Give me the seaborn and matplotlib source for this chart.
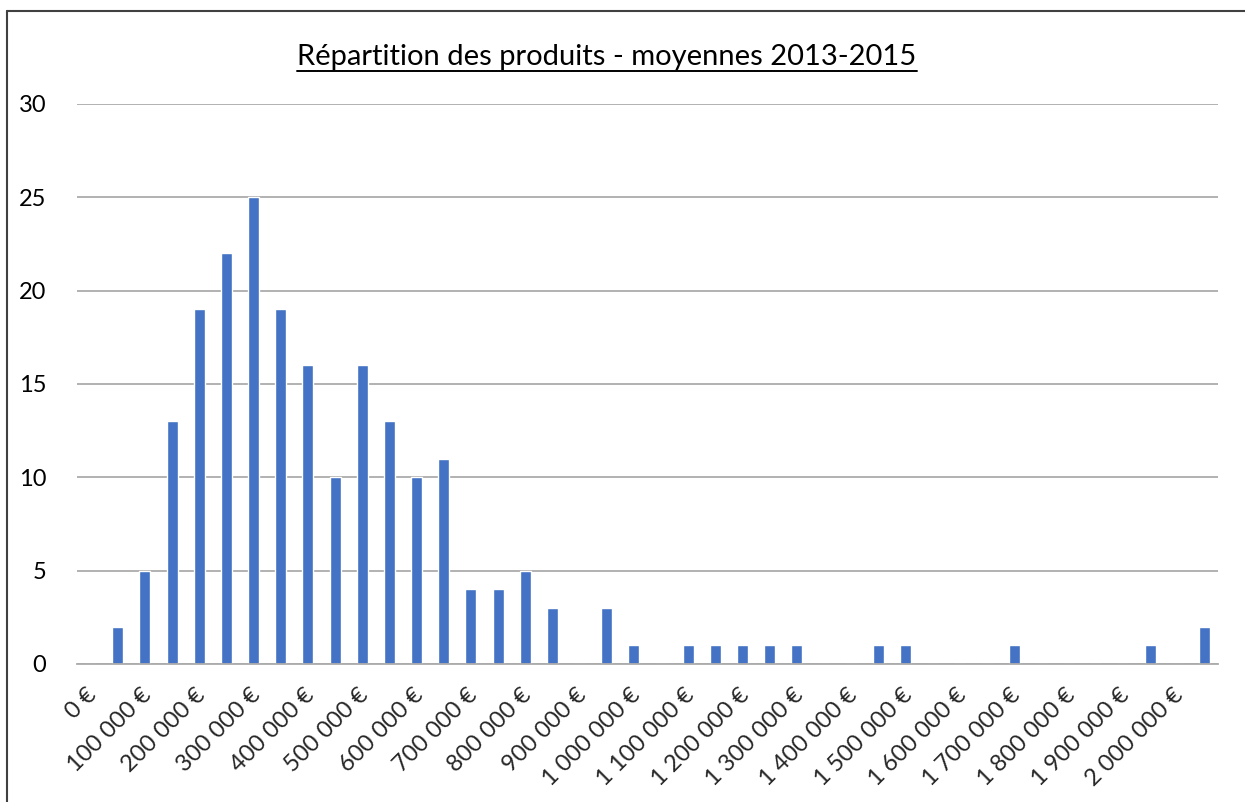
import matplotlib
matplotlib.use('Agg')
import matplotlib.pyplot as plt
from matplotlib.lines import Line2D
from matplotlib.transforms import ScaledTranslation
import seaborn as sns
import numpy as np

# classes de 50 000 € (0 € à 2 050 000 €)
classes = [f"{k * 50000:,} €".replace(",", " ") for k in range(42)]
effectifs = [0, 2, 5, 13, 19, 22, 25, 19, 16, 10,
             16, 13, 10, 11, 4, 4, 5, 3, 0, 3,
             1, 0, 1, 1, 1, 1, 1, 0, 0, 1,
             1, 0, 0, 0, 1, 0, 0, 0, 0, 1,
             0, 2]
titre = "Répartition des produits - moyennes 2013-2015"
yticks = [0, 5, 10, 15, 20, 25, 30]

sns.set_style("white")
plt.rcParams['font.family'] = ['Lato', 'DejaVu Sans']

fig = plt.figure(figsize=(12.45, 8.02), dpi=100)
ax = fig.add_axes([77 / 1245, 1 - 664 / 802, (1218 - 77) / 1245, (664 - 104) / 802])

sns.barplot(x=classes, y=effectifs, color='#4472C4', width=0.4,
            saturation=1, ax=ax, zorder=3)

ax.set_ylim(0, 30)
ax.set_xlim(-0.5, len(classes) - 0.5)
ax.set_yticks(yticks)
ax.set_yticklabels([str(v) for v in yticks])
ax.tick_params(axis='y', length=0, pad=22, labelsize=17, labelcolor='#000000')
ax.grid(axis='y', color='#ABABAB', linewidth=1.3, zorder=0)
ax.set_xlabel('')
ax.set_ylabel('')

# graduations entre les classes, étiquettes une classe sur deux
ax.set_xticks(np.arange(-0.5, len(classes), 1.0))
ax.set_xticklabels([])
ax.tick_params(axis='x', which='major', length=6, width=1.3, color='#ABABAB')
pos_lab = np.arange(0, len(classes), 2)
ax.set_xticks(pos_lab, minor=True)
ax.set_xticklabels([classes[i] for i in pos_lab], minor=True, rotation=45,
                   ha='right', va='center', rotation_mode='anchor')
ax.tick_params(axis='x', which='minor', length=0, pad=20, labelsize=17)
decal = ScaledTranslation(3 / 100, 0, fig.dpi_scale_trans)
for lab in ax.get_xticklabels(minor=True):
    lab.set_transform(lab.get_transform() + decal)

for s in ['top', 'right', 'left']:
    ax.spines[s].set_visible(False)
ax.spines['bottom'].set_color('#ABABAB')
ax.spines['bottom'].set_linewidth(1.3)
ax.spines['bottom'].set_zorder(4)

t = fig.text(607 / 1245, 1 - 57 / 802, titre, ha='center', va='center',
             fontsize=21, color='#000000')

# titre souligné
fig.canvas.draw()
bb = t.get_window_extent(fig.canvas.get_renderer()).transformed(fig.transFigure.inverted())
fig.add_artist(Line2D([bb.x0, bb.x1], [bb.y0 - 0.001, bb.y0 - 0.001],
                      transform=fig.transFigure, color='#000000', linewidth=1.4))

# cadre du graphique (haut et gauche visibles)
fig.add_artist(Line2D([7 / 1245, 1.01], [1 - 11 / 802, 1 - 11 / 802],
                      transform=fig.transFigure, color='#404040', linewidth=1.5))
fig.add_artist(Line2D([7 / 1245, 7 / 1245], [-0.01, 1 - 11 / 802],
                      transform=fig.transFigure, color='#404040', linewidth=1.5))

fig.savefig('out.png', dpi=100)
